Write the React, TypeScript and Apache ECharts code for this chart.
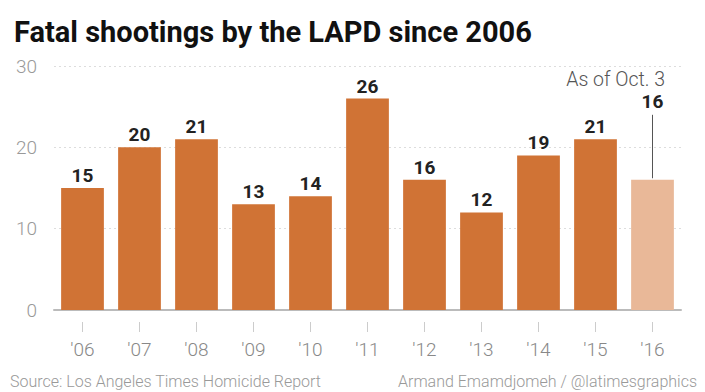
import React, { useEffect, useRef } from "react";
import * as echarts from "echarts";

const categories = ["'06", "'07", "'08", "'09", "'10", "'11", "'12", "'13", "'14", "'15", "'16"];
const values = [15, 20, 21, 13, 14, 26, 16, 12, 19, 21, 16];
const yTicks = [0, 10, 20, 30];
const title = "Fatal shootings by the LAPD since 2006";
const source = "Source: Los Angeles Times Homicide Report";
const credit = "Armand Emamdjomeh / @latimesgraphics";
const note = "As of Oct. 3";

const FONT = "'Liberation Sans Narrow', 'Roboto', 'Arial Narrow', sans-serif";
const LIGHT = "Roboto, 'Liberation Sans', sans-serif";

export default function App() {
  const ref = useRef<HTMLDivElement>(null);
  useEffect(() => {
    if (!ref.current) return;
    const chart = echarts.init(ref.current, null, { renderer: "svg" });
    const last = values.length - 1;
    chart.setOption({
      animation: false,
      backgroundColor: "#fff",
      grid: { left: 54, right: 24, top: 66, bottom: 82 },
      title: {
        text: title,
        left: 9,
        top: 12,
        textStyle: { fontFamily: FONT, fontWeight: "bold", fontSize: 29, color: "#111" },
      },
      graphic: [
        {
          type: "text",
          left: 10,
          top: 373,
          style: { text: source, fontFamily: LIGHT, fontSize: 16, fill: "#999", fontWeight: 300 },
        },
        {
          type: "text",
          right: 8,
          top: 373,
          style: { text: credit, fontFamily: LIGHT, fontSize: 16, fill: "#999", fontWeight: 300 },
        },
        {
          type: "text",
          right: 40,
          top: 69,
          style: { text: note, fontFamily: LIGHT, fontSize: 19.5, fill: "#555", fontWeight: 300 },
        },
      ],
      xAxis: [
        {
          type: "category",
          data: categories,
          axisLine: { show: true, lineStyle: { color: "#bbb", width: 2 } },
          axisTick: { show: false },
          axisLabel: { show: false },
        },
        {
          type: "category",
          data: categories,
          position: "bottom",
          offset: 12,
          axisLine: { show: false },
          axisTick: { show: true, alignWithLabel: true, length: 10, lineStyle: { color: "#ccc" } },
          axisLabel: {
            margin: 18,
            fontFamily: LIGHT,
            fontWeight: 300,
            fontSize: 19,
            color: "#888",
          },
        },
      ],
      yAxis: {
        type: "value",
        min: 0,
        max: yTicks[yTicks.length - 1],
        interval: 10,
        axisLine: { show: false },
        axisTick: { show: false },
        axisLabel: { margin: 17, fontFamily: LIGHT, fontWeight: 300, fontSize: 19, color: "#999" },
        splitLine: { show: true, lineStyle: { color: "#ddd", type: [2, 3], width: 1 } },
      },
      series: [
        {
          type: "bar",
          xAxisIndex: 0,
          barCategoryGap: "25%",
          data: values.map((v, i) =>
            i === last
              ? {
                  value: v,
                  itemStyle: { color: "#e9b898" },
                  label: { offset: [0, -66] },
                }
              : v
          ),
          itemStyle: { color: "#d07335" },
          label: {
            show: true,
            position: "top",
            distance: 3,
            fontFamily: FONT,
            fontWeight: "bold",
            fontSize: 19,
            color: "#222",
          },
          markLine: {
            silent: true,
            symbol: "none",
            label: { show: false },
            lineStyle: { color: "#555", width: 1, type: "solid" },
            data: [
              [
                { coord: [categories[last], values[last] + 0.2] },
                { coord: [categories[last], 24] },
              ],
            ],
          },
        },
      ],
    });
    return () => chart.dispose();
  }, []);
  return (
    <div
      ref={ref}
      style={{ position: "absolute", left: 0, top: 0, width: 705, height: 392 }}
    />
  );
}
